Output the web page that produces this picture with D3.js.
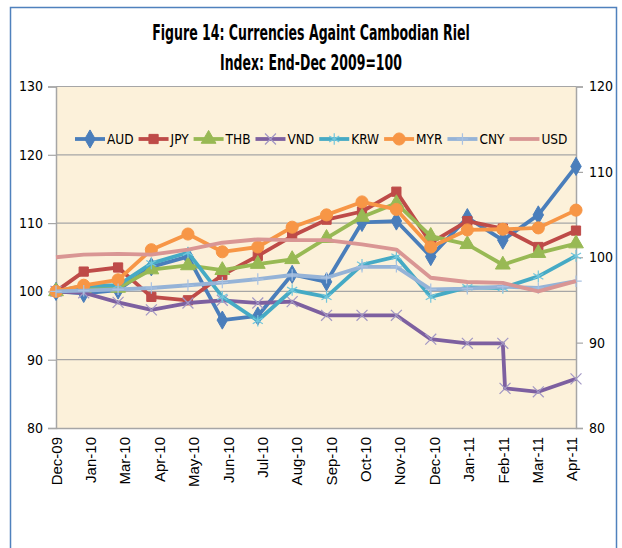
<!DOCTYPE html>
<html>
<head>
<meta charset="utf-8">
<script src="https://cdn.jsdelivr.net/npm/d3@7"></script>
<style>
body{ margin:0; background:#fff; }
svg text{ font-family:"DejaVu Sans Condensed","DejaVu Sans",sans-serif; font-stretch:condensed; fill:#000; }
</style>
</head>
<body>
<svg id="chart" width="622" height="548"></svg>
<script>
var dates = ["2009-12-31","2010-01-25","2010-02-25","2010-03-27","2010-04-29","2010-05-30",
	"2010-07-01","2010-08-01","2010-09-01","2010-10-03","2010-11-03","2010-12-04",
	"2011-01-06","2011-02-07","2011-03-11","2011-04-14"];
// VND has one extra point (the Feb-11 devaluation)
var vndDates = ["2009-12-31","2010-01-25","2010-02-25","2010-03-27","2010-04-29","2010-05-30",
	"2010-07-01","2010-08-01","2010-09-01","2010-10-03","2010-11-03","2010-12-04",
	"2011-01-06","2011-02-07","2011-02-09","2011-03-11","2011-04-14"];
var tickDates = ["2009-12-31","2010-01-31","2010-03-03","2010-04-03","2010-05-04","2010-06-04",
	"2010-07-05","2010-08-05","2010-09-05","2010-10-06","2010-11-06","2010-12-07",
	"2011-01-07","2011-02-07","2011-03-10","2011-04-10"];

var aud = [100, 99.7, 100.2, 103.6, 105.1, 95.8, 96.4, 102.5, 101.4, 110.1, 110.3, 105.1, 110.8, 107.5, 111.2, 118.3];
var jpy = [100, 102.9, 103.5, 99.2, 98.7, 102.4, 105.2, 108.1, 110.5, 111.7, 114.6, 107.1, 110.3, 109.2, 106.5, 108.9];
var thb = [100, 100.4, 100.5, 103.2, 103.8, 103.1, 104.0, 104.7, 107.8, 110.9, 112.9, 108.1, 106.9, 103.9, 105.6, 107.0];
var vnd = [100, 99.8, 98.4, 97.3, 98.3, 98.7, 98.3, 98.5, 96.5, 96.5, 96.5, 93.0, 92.4, 92.4, 85.8, 85.3, 87.2];
var krw = [100, 100.8, 100.9, 104.1, 105.7, 99.2, 95.7, 100.2, 99.2, 103.9, 105.1, 99.2, 100.6, 100.5, 102.2, 105.2];
var myr = [100, 100.9, 101.7, 106.1, 108.4, 105.8, 106.5, 109.4, 111.2, 113.1, 112.0, 106.5, 109.0, 109.1, 109.3, 111.9];
var cny = [100, 100.1, 100.3, 100.5, 100.9, 101.3, 101.8, 102.4, 102.0, 103.6, 103.6, 100.3, 100.4, 100.7, 100.5, 101.5];
// USD is plotted on the secondary (right) axis
var usd = [100, 100.3, 100.4, 100.3, 100.9, 101.7, 102.1, 102.0, 102.0, 101.5, 100.9, 97.6, 97.1, 97.0, 96.0, 97.2];

var leftTicks = [80, 90, 100, 110, 120, 130];
var rightTicks = [80, 90, 100, 110, 120];

var parse = d3.timeParse("%Y-%m-%d");
var fmt = d3.timeFormat("%b-%y");

var series = [
	{ name:"AUD", dates:dates, values:aud, color:"#4a7ebb", marker:"diamond", axis:"left" },
	{ name:"JPY", dates:dates, values:jpy, color:"#be4b48", marker:"square", axis:"left" },
	{ name:"THB", dates:dates, values:thb, color:"#98b954", marker:"triangle", axis:"left" },
	{ name:"VND", dates:vndDates, values:vnd, color:"#7d60a0", marker:"times", mcolor:"#a297c4", axis:"left" },
	{ name:"KRW", dates:dates, values:krw, color:"#46aac5", marker:"asterisk", mcolor:"#72c6dc", axis:"left" },
	{ name:"MYR", dates:dates, values:myr, color:"#f79646", marker:"circle", axis:"left" },
	{ name:"CNY", dates:dates, values:cny, color:"#95b3d7", marker:"plus", mcolor:"#a9c2e2", axis:"left" },
	{ name:"USD", dates:dates, values:usd, color:"#d99694", marker:null, axis:"right" }
];

var svg = d3.select("#chart");
var pLeft = 56, pRight = 576, pTop = 86.5, pBottom = 428;

// outer frame
svg.append("rect")
	.attr("x", 10.5).attr("y", 7.5).attr("width", 606).attr("height", 560)
	.attr("fill", "#fff").attr("stroke", "#4f81bd").attr("stroke-width", 1.5);

// titles (narrowed horizontally to mimic the condensed original face)
var addTitle = function(str, y, width){
	var g = svg.append("g");
	var t = g.append("text").attr("x", 0).attr("y", 0).attr("text-anchor", "middle")
		.style("font-size", "22px").style("font-weight", "bold")
		.text(str);
	var k = width / t.node().getComputedTextLength();
	g.attr("transform", "translate(311," + y + ") scale(" + k + ",1)");
};
addTitle("Figure 14:  Currencies Againt Cambodian Riel", 40, 318);
addTitle("Index: End-Dec 2009=100", 70, 182);

// plot area
svg.append("rect")
	.attr("x", pLeft).attr("y", pTop).attr("width", pRight - pLeft).attr("height", pBottom - pTop)
	.attr("fill", "#fcf1da");

var x = d3.scaleTime()
	.domain([ parse(dates[0]), parse(dates[dates.length - 1]) ])
	.range([ pLeft, pRight ]);
var yL = d3.scaleLinear().domain([ 80, 130 ]).range([ pBottom, pTop ]);
var yR = d3.scaleLinear().domain([ 80, 120 ]).range([ pBottom, pTop ]);

// gridlines
svg.append("g").selectAll("line").data(leftTicks.slice(1)).enter()
	.append("line")
	.attr("x1", pLeft).attr("x2", pRight)
	.attr("y1", function(d){ return yL(d); }).attr("y2", function(d){ return yL(d); })
	.attr("stroke", "#a6a6a6").attr("stroke-width", 1.2);

// left axis
var gL = svg.append("g").attr("transform", "translate(" + pLeft + ",0)")
	.call(d3.axisLeft(yL).tickValues(leftTicks).tickSize(8).tickPadding(5));
// right axis
var gR = svg.append("g").attr("transform", "translate(" + pRight + ",0)")
	.call(d3.axisRight(yR).tickValues(rightTicks).tickSize(7).tickPadding(6));
// bottom axis
var gB = svg.append("g").attr("transform", "translate(0," + pBottom + ")")
	.call(d3.axisBottom(x).tickValues(tickDates.map(parse)).tickFormat(fmt).tickSize(0).tickPadding(8));

[gL, gR, gB].forEach(function(g){
	g.select(".domain").attr("stroke", "#a6a6a6").attr("stroke-width", 1.5);
	g.selectAll(".tick line").attr("stroke", "#a6a6a6").attr("stroke-width", 1.2);
});
gL.selectAll("text").style("font-size", "14px");
gR.selectAll("text").style("font-size", "14px");
gB.selectAll("text")
	.style("font-family", "'Liberation Sans', Arial, sans-serif")
	.style("font-stretch", "normal")
	.style("font-size", "15px")
	.attr("transform", "rotate(-90)")
	.attr("text-anchor", "end")
	.attr("dy", "0.35em")
	.attr("x", -9).attr("y", 0);

// markers
var symbolFor = function(m){
	switch(m){
		case "diamond": return d3.symbol().type(d3.symbolDiamond).size(95);
		case "square": return d3.symbol().type(d3.symbolSquare).size(85);
		case "triangle": return d3.symbol().type(d3.symbolTriangle).size(95);
		case "circle": return d3.symbol().type(d3.symbolCircle).size(115);
		case "times": return d3.symbol().type(d3.symbolTimes || d3.symbolCross).size(80);
		case "asterisk": return d3.symbol().type(d3.symbolAsterisk || d3.symbolCross).size(95);
		case "plus": return d3.symbol().type(d3.symbolPlus || d3.symbolCross).size(45);
	}
	return null;
};
var isStroke = function(m){ return m === "times" || m === "asterisk" || m === "plus"; };

var drawMarker = function(g, s, cx, cy){
	var sym = symbolFor(s.marker);
	if(!sym){ return; }
	var p = g.append("path").attr("d", sym())
		.attr("transform", "translate(" + cx + "," + cy + ")");
	if(isStroke(s.marker)){
		p.attr("fill", "none").attr("stroke", s.mcolor).attr("stroke-width", 1.2);
	}else{
		p.attr("fill", s.color).attr("stroke", s.color).attr("stroke-width", 1);
	}
};

// series
var plot = svg.append("g");
series.forEach(function(s){
	var y = s.axis === "right" ? yR : yL;
	var pts = s.values.map(function(v, i){ return [ x(parse(s.dates[i])), y(v) ]; });
	var g = plot.append("g");
	g.append("path")
		.attr("d", d3.line()(pts))
		.attr("fill", "none")
		.attr("stroke", s.color)
		.attr("stroke-width", 3.8)
		.attr("stroke-linejoin", "round");
	pts.forEach(function(p){ drawMarker(g, s, p[0], p[1]); });
});

// legend
var legend = svg.append("g");
var lx = 75, ly = 139;
series.forEach(function(s){
	var item = legend.append("g");
	item.append("line")
		.attr("x1", lx).attr("x2", lx + 30).attr("y1", ly).attr("y2", ly)
		.attr("stroke", s.color).attr("stroke-width", 3.8);
	drawMarker(item, s, lx + 15, ly);
	var t = item.append("text")
		.attr("x", lx + 32).attr("y", ly).attr("dy", "0.35em")
		.style("font-size", "13.5px")
		.text(s.name);
	lx += 32 + t.node().getComputedTextLength() + 5;
});
</script>
</body>
</html>
